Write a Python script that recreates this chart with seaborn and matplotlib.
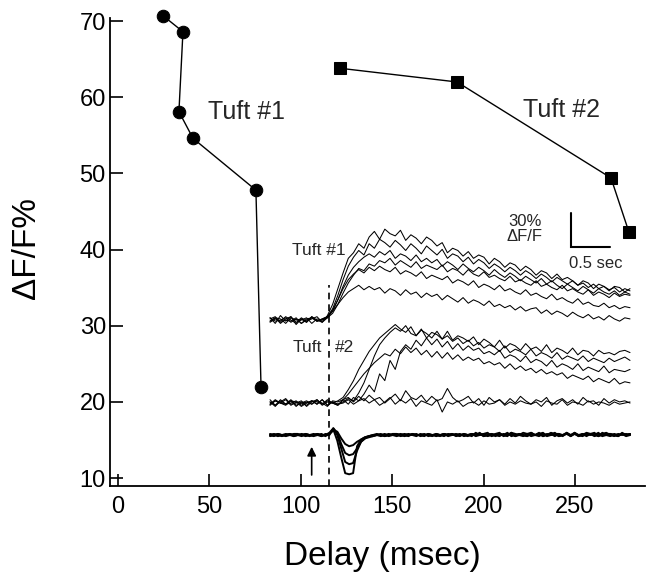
import numpy as np
import pandas as pd
import matplotlib
matplotlib.use("Agg")
import matplotlib.pyplot as plt
import seaborn as sns

# Peak dF/F versus delay for the two tufts
tuft1_delay = [24.7, 35.6, 33.4, 41.1, 75.5, 78.3]
tuft1_dff = [70.7, 68.6, 58.1, 54.6, 47.8, 22.0]
tuft2_delay = [121.5, 185.5, 269.7, 279.5]
tuft2_dff = [63.8, 62.0, 49.4, 42.3]

x_ticks = [0, 50, 100, 150, 200, 250]
y_ticks = [10, 20, 30, 40, 50, 60, 70]

stim_delay = 115.5          # dashed stimulus marker (msec axis)
arrow_delay = 106.0

# Optical sweeps (% dF/F relative to baseline), tuft #1
t1_a = [2, -3, 4, -1, 3, -4, 1, -2, 3, 0, -2,
        4, 14, 28, 42, 55, 60, 68, 64,
        74, 79, 72, 81, 77, 75, 80, 71, 76, 73, 68, 74,
        71, 66, 69, 60, 64, 62, 57, 61, 55, 58, 56, 50, 55, 52, 47, 51, 49, 44,
        48, 45, 40, 44, 42, 37, 41, 36, 38, 35, 31, 35, 33, 28, 32, 30, 26, 30,
        29, 25, 28]
t1_b = [-1, 2, -3, 1, 3, -2, 0, 2, -3, 1, 0,
        3, 10, 22, 36, 48, 56, 62, 58,
        68, 64, 72, 69, 65, 71, 67, 62, 68, 64, 59, 66,
        62, 58, 63, 55, 59, 57, 52, 56, 50, 54, 51, 46, 50, 47, 43, 47, 44, 40,
        44, 41, 37, 41, 38, 34, 38, 35, 32, 35, 31, 33, 29, 32, 28, 30, 27, 29,
        25, 28, 26]
t1_c = [-2, 1, -1, 3, 0, -3, 2, -1, 1, 3, -2,
        2, 8, 18, 30, 40, 47, 52, 56,
        59, 56, 61, 58, 62, 55, 59, 57, 53, 58, 52, 55,
        51, 54, 48, 52, 49, 45, 50, 46, 43, 47, 44, 40, 45, 41, 38, 42, 39, 35,
        39, 36, 33, 37, 32, 35, 31, 28, 32, 29, 26, 30, 27, 24, 28, 25, 23, 26,
        22, 25, 23]
t1_d = [1, 3, -2, 0, -1, 2, -3, 1, 2, -1, 0,
        2, 6, 14, 24, 33, 40, 46, 44,
        50, 48, 53, 51, 55, 49, 53, 50, 47, 52, 46, 49,
        47, 45, 49, 43, 46, 44, 40, 45, 41, 39, 43, 38, 40, 37, 35, 39, 34, 36,
        33, 31, 35, 30, 32, 29, 27, 31, 26, 28, 25, 23, 27, 22, 25, 23, 20, 24,
        21, 23, 22]
t1_e = [-1, 2, 1, -3, 2, 0, 1, -2, 3, -1, 1,
        3, 9, 18, 28, 36, 41, 45, 42,
        47, 44, 48, 45, 43, 47, 41, 44, 42, 39, 43, 37,
        40, 38, 36, 39, 33, 36, 34, 31, 35, 29, 32, 30, 27, 31, 26, 28, 25, 23,
        27, 22, 24, 21, 19, 23, 18, 20, 17, 15, 19, 14, 16, 13, 12, 15, 11, 13,
        10, 12, 11]
t1_f = [2, -1, 0, 2, -2, 1, -3, 0, 2, -1, 1,
        3, 8, 14, 20, 25, 28, 31, 27,
        30, 27, 29, 24, 28, 26, 22, 27, 23, 25, 20, 24,
        21, 23, 18, 22, 19, 16, 20, 15, 18, 16, 13, 17, 12, 14, 11, 13, 9, 12,
        8, 10, 11, 6, 9, 5, 8, 6, 3, 7, 4, 2, 5, 1, 3, 0, 4, 1,
        -1, 2, 1]

# Optical sweeps, tuft #2
t2_g = [1, -3, 2, -1, 3, -2, 0, 2, -1, 3, -2, 1, 0, 2,
        5, 12, 20, 30, 38, 46, 52, 58, 62, 66,
        70, 66, 63, 68, 60, 65, 62, 58, 64, 57, 60, 55, 58, 53,
        56, 51, 54, 49, 52, 50, 46, 51, 45, 48, 46, 43, 48, 42, 45, 43,
        40, 45, 39, 42, 40, 38, 42, 37, 40, 38, 36, 40, 37, 39, 41, 38]
t2_h = [-2, 2, 0, -1, 2, -3, 1, 0, 2, -1, 3, -2, 1, -1,
        1, 4, 2, 9, 18, 30, 42, 52, 58, 63,
        67, 64, 69, 62, 60, 66, 58, 63, 61, 57, 64, 56, 60, 58,
        55, 59, 52, 57, 54, 50, 56, 49, 53, 51, 47, 53, 48, 50, 46, 52,
        45, 49, 47, 44, 49, 43, 47, 46, 42, 47, 44, 45, 43, 46, 47, 45]
t2_i = [1, -2, 3, -1, 0, 2, -2, 1, -1, 2, 0, -3, 2, 1,
        3, -1, 5, 2, 8, 16, 10, 26, 20, 38,
        30, 46, 52, 48, 56, 51, 58, 52, 57, 50, 55, 48, 53, 47,
        51, 47, 49, 44, 46, 43, 47, 40, 43, 41, 37, 42, 36, 39, 37, 33,
        38, 32, 35, 33, 30, 35, 29, 32, 30, 28, 33, 27, 30, 29, 28, 30]
t2_j = [-1, 2, 0, 3, -2, 1, 0, -2, 2, 1, -1, 3, 0, -2,
        3, 8, 14, 20, 26, 31, 36, 40, 44, 42,
        48, 44, 50, 45, 49, 43, 47, 41, 46, 40, 45, 39, 43, 38,
        41, 38, 40, 35, 37, 34, 36, 31, 35, 30, 33, 29, 31, 27, 30, 26,
        28, 25, 27, 22, 25, 23, 21, 24, 19, 22, 20, 18, 22, 17, 19, 18]
t2_k = [3, -2, 1, 4, -1, 0, 2, -3, 1, 3, -1, 2, 0, -2,
        3, 5, 1, 6, 2, 7, 3, 5, 0, 4, 8, 2, 11, 5, 3, 7, 1, 6, 2, 4,
        13, 5, 1, 3, 6, 0, 4, -2, 5, 1, 3, -1, 4, 0, 6, 2, -1, 3, 1, 5,
        -2, 2, 4, 0, 3, -1, 5, 1, 2, -2, 4, 0, 3, 1, 2, 0]
t2_l = [-1, 3, 0, -2, 2, 1, -3, 0, 2, -1, 3, -2, 1, -1,
        0, 3, -1, 2, 4, 0, 3, -2, 1, 5, -1, 3, 0, 4, -3, 2, 0, -2, 3, -8,
        1, -1, 2, -3, 0, 1, -2, 2, -1, 0, 3, -2, 1, -1, 2, 0, -1, 1, -3, 2,
        0, -1, 3, -2, 1, 0, -2, 2, -1, 1, 0, -2, 1, -1, 0, 1]

# Electrical recording sweeps (bottom bundle)
b_a = [0, 1, 0, -1, 0, 1, 0, 0, -1, 1, 0, 0, 1, -1, 0, 1, 5, -5, -20, -34,
       -35, -34, -10, -4, -2, -1, 0, 1, 0, -1, 0, 1, 1, 0, -1, 0, 1, 0, 0, 1,
       -1, 0, 1, 0, -1, 1, 0, 0, 1, -1, 0, 1, 0, 1, -1, 0, 1, 0, -1, 1,
       0, 2, -1, 1, 0, -1, 1, 0, 2, -1, 0, 1, -1, 1, 0, 2, -1, 1, 0, -1,
       1, 0, 1, -1, 2, 0, -1, 1, 0, 1, -1, 0]
b_b = [1, 0, -1, 0, 0, 1, -1, 0, 1, 0, -1, 0, 1, 0, 0, 2, 6, 2, -8, -16,
       -18, -17, -12, -6, -3, -1, 0, 0, 1, -1, 0, 0, 1, -1, 0, 1, 0, -1, 1, 0,
       0, -1, 1, 0, 1, -1, 0, 1, 0, 0, -1, 1, 0, 2, -1, 0, 1, -1, 1, 0,
       2, -1, 0, 1, 0, -1, 2, 0, 1, -1, 1, 0, 2, -1, 0, 1, -1, 2, 0, 1,
       -1, 1, 0, 2, -1, 0, 1, 0, -1, 2, 0, 1]
b_c = [0, -1, 1, 0, 1, 0, -1, 0, 0, 1, 0, -1, 0, 1, -1, 1, 4, 3, -3, -8,
       -10, -9, -6, -4, -2, -1, -1, 0, 0, 1, -1, 0, 0, 1, 0, -1, 1, 0, 0, -1,
       1, 0, -1, 0, 1, 0, 1, -1, 0, 1, 0, -1, 2, 0, 1, -1, 0, 1, 2, -1,
       0, 1, -1, 0, 2, 1, -1, 0, 1, 2, -1, 0, 1, 1, -1, 2, 0, 1, -1, 0,
       2, 1, -1, 0, 1, 2, 0, -1, 1, 0, 1, 0]
b_d = [-1, 0, 1, 0, -1, 0, 1, 1, 0, -1, 0, 1, 0, -1, 1, 0, 6, 0, -12, -24,
       -26, -25, -14, -6, -3, -2, -1, 0, -1, 0, 1, 0, -1, 0, 1, 0, 0, 1, -1, 0,
       1, 0, 0, -1, 1, 0, 1, 0, -1, 1, 0, 1, -1, 0, 1, 2, -1, 0, 1, 0,
       -1, 2, 1, 0, -1, 1, 2, 0, -1, 1, 0, 2, 1, -1, 0, 1, 0, 2, -1, 1,
       0, 1, 2, -1, 0, 1, 1, 0, -1, 1, 0, 1]

trace_span = 4.58            # seconds covered by each sweep
offset_t1, offset_t2, offset_el = 140.8, 66.8, 38.3

sns.set_theme(style="ticks")
plt.rcParams["font.family"] = ["Liberation Sans", "DejaVu Sans"]

W, H = 646, 575
fig = plt.figure(figsize=(W / 100, H / 100), dpi=100)
fig.patch.set_facecolor("white")


def fx(px):
    return px / W


def fy(py):
    return 1 - py / H


ax = fig.add_axes([fx(110), fy(486), fx(645) - fx(110), fy(18) - fy(486)])
ax.set_facecolor("white")

df1 = pd.DataFrame({"delay": tuft1_delay, "dff": tuft1_dff})
df2 = pd.DataFrame({"delay": tuft2_delay, "dff": tuft2_dff})
sns.lineplot(data=df1, x="delay", y="dff", sort=False, estimator=None,
             color="black", lw=1.0, marker="o", markersize=9,
             markeredgecolor="black", clip_on=False, ax=ax)
sns.lineplot(data=df2, x="delay", y="dff", sort=False, estimator=None,
             color="black", lw=1.0, marker="s", markersize=8,
             markeredgecolor="black", clip_on=False, ax=ax)

ax.set_xlim(-4.3, 288.3)
ax.set_ylim(8.95, 70.4)
ax.set_xticks(x_ticks)
ax.set_yticks(y_ticks)
for s in ("top", "right"):
    ax.spines[s].set_visible(False)
for s in ("left", "bottom"):
    ax.spines[s].set_linewidth(1.3)
    ax.spines[s].set_color("black")
ax.tick_params(axis="both", direction="in", length=9, width=1.2,
               labelsize=17, colors="black")
ax.tick_params(axis="x", pad=7)
ax.tick_params(axis="y", pad=3)

ax.set_xlabel("Delay (msec)", fontsize=24, color="black")
ax.set_ylabel("ΔF/F%", fontsize=24, color="black")
ax.xaxis.label.set_verticalalignment("center")
ax.yaxis.label.set_verticalalignment("center")
ax.xaxis.set_label_coords((382 - 110) / 535, (486 - 556) / 468)
ax.yaxis.set_label_coords((26 - 110) / 535, (486 - 248) / 468)

ax.text(70.6, 58.05, "Tuft #1", fontsize=18, ha="center", va="center")
ax.text(242.4, 58.3, "Tuft #2", fontsize=18, ha="center", va="center")

# stimulus timing marker and arrow
ax.plot([stim_delay, stim_delay], [8.95, 35.3], color="black", lw=1.2,
        ls=(0, (4, 3)))
ax.annotate("", xy=(arrow_delay, 14.1), xytext=(arrow_delay, 10.4),
            arrowprops=dict(arrowstyle="-|>", color="black", lw=1.2,
                            mutation_scale=13, shrinkA=0, shrinkB=0))

# inset with the raw sweeps
axi = fig.add_axes([fx(265), fy(478), fx(640) - fx(265), fy(200) - fy(478)])
axi.set_xlim(-0.064, 4.707)
axi.set_ylim(0, 247.8)
axi.axis("off")
axi.patch.set_alpha(0)

for tr in (t1_a, t1_b, t1_c, t1_d, t1_e, t1_f):
    t = np.linspace(0, trace_span, len(tr))
    axi.plot(t, np.array(tr) + offset_t1, color="black", lw=0.75)
for tr in (t2_g, t2_h, t2_i, t2_j, t2_k, t2_l):
    t = np.linspace(0, trace_span, len(tr))
    axi.plot(t, np.array(tr) + offset_t2, color="black", lw=0.75)
for tr in (b_a, b_b, b_c, b_d):
    t = np.linspace(0, trace_span, len(tr))
    axi.plot(t, np.array(tr) + offset_el, color="black", lw=1.4)

axi.text(0.62, 203, "Tuft #1", fontsize=12.5, ha="center", va="center")
axi.text(0.47, 116, "Tuft", fontsize=12.5, ha="center", va="center")
axi.text(0.95, 116, "#2", fontsize=12.5, ha="center", va="center")

# scale bar: 0.5 s by 30 % dF/F
axi.plot([3.83, 3.83, 4.33], [235.9, 205.9, 205.9], color="black", lw=1.5,
         solid_joinstyle="miter")
axi.text(3.24, 222, "30%\nΔF/F", fontsize=12, ha="center", va="center",
         linespacing=0.95)
axi.text(4.15, 191.5, "0.5 sec", fontsize=12, ha="center", va="center")

fig.savefig("out.png", dpi=100, facecolor="white")
